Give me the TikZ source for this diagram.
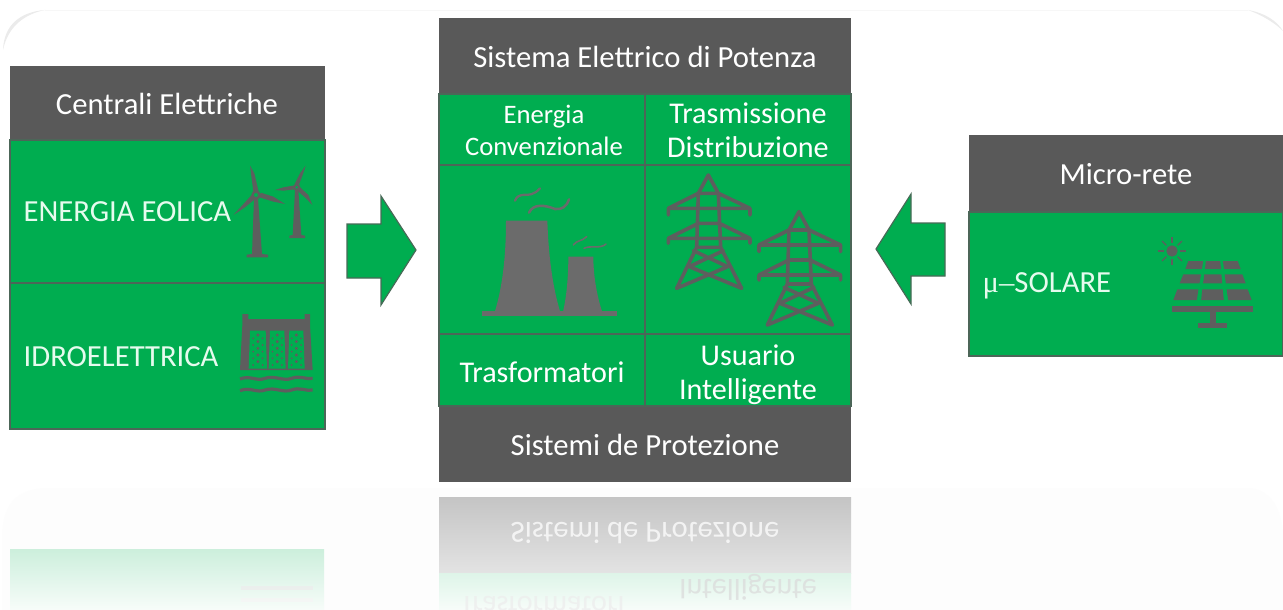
\documentclass[tikz,border=0pt]{standalone}
\usepackage{fontspec}
\setmainfont{Carlito}
\newfontfamily\serifmu{Liberation Serif}
\definecolor{gr}{HTML}{00AD50}
\definecolor{dk}{HTML}{595959}
\definecolor{ic}{HTML}{5E5E5E}
\definecolor{tw}{HTML}{6B6B6B}
\definecolor{mint}{HTML}{E6FBEE}
\tikzset{
  cellbox/.style={fill=gr,draw=dk!85!gr,line width=1pt},
  headtxt/.style={text=white,font=\fontsize{23}{27}\selectfont,align=center},
  celltxt/.style={text=white,font=\fontsize{22.6}{25.5}\selectfont,align=center},
  sidetxt/.style={text=mint,font=\fontsize{23}{27}\selectfont,anchor=west},
  arrowshape/.style={fill=gr,draw=dk!80!gr,line width=0.9pt,line join=miter},
  pyl/.style={draw=ic,line width=2.7pt,line cap=round,line join=round},
  reflecttxt/.style={yscale=-1,transform shape,text=white,opacity=.75}
}
\begin{document}
\begin{tikzpicture}[x=0.75pt,y=-0.75pt]
\useasboundingbox (0,0) rectangle (1283,610);
\fill[white] (0,0) rectangle (1283,610);
% panels
\draw[black!3,line width=.6pt] (45,10) -- (1248,10);
\fill[black!8] (3,50) .. controls (4,25) and (20,12) .. (45,10) .. controls (25,14) and (8,26) .. (3,50) -- cycle;
\fill[black!8] (1248,10) .. controls (1265,13) and (1277,21) .. (1283,31) .. controls (1275,23) and (1262,15) .. (1248,10) -- cycle;
\fill[black!0.8] (2,540) .. controls (2,505) and (15,490) .. (45,488) -- (1250,488) .. controls (1268,490) and (1283,505) .. (1283,540) -- (1283,610) -- (2,610) -- cycle;
% reflections
\shade[top color=black!23,bottom color=black!11] (439,497) rectangle (851,573);
\shade[top color=gr!13!white,bottom color=gr!3!white] (439,573) rectangle (851,610);
\shade[top color=gr!20!white,bottom color=gr!3!white] (10,549) rectangle (324,610);
\node[reflecttxt,font=\fontsize{23}{27}\selectfont] (rprot) at (645,533) {Sistemi de Protezione};
\node[reflecttxt,font=\fontsize{22.6}{25.5}\selectfont,text=black!14] (rint) at (748,587) {Intelligente};
\node[reflecttxt,font=\fontsize{22.6}{25.5}\selectfont,text=black!7] (rtra) at (542,607) {Trasformatori};
\fill[black!7,opacity=.8] (241,586) rectangle (313,590);
\fill[black!4,opacity=.8] (241,598) rectangle (313,602);
% left block
\fill[dk] (10,66) rectangle (325,140);
\draw[cellbox] (10,140) rectangle (325,283);
\draw[cellbox] (10,283) rectangle (325,429);
\node[headtxt] (centrali) at (167,104) {Centrali Elettriche};
\node[sidetxt] (eolica) at (19,212) {ENERGIA EOLICA};
\node[sidetxt] (idro) at (19,357) {IDROELETTRICA};
% wind turbines
\begin{scope}[x=0.25pt,y=-0.25pt]
\fill[ic] (762,595) -- (774,595) -- (786,762) -- (804,764) -- (804,772) -- (740,772) -- (740,764) -- (756,762) -- cycle;
\fill[ic] (750,497) -- (763,520) -- (776,575) -- (760,575) -- cycle;
\fill[ic] (855,612) -- (820,605) -- (778,592) -- (782,578) -- (820,590) -- cycle;
\fill[ic] (700,645) -- (725,618) -- (755,585) -- (765,597) -- (735,622) -- cycle;
\fill[ic] (768,585) circle (14);
\fill[gr] (768,585) circle (6);
\fill[ic] (885,570) -- (895,570) -- (904,705) -- (915,707) -- (915,714) -- (868,714) -- (868,707) -- (878,705) -- cycle;
\fill[ic] (917,497) -- (908,525) -- (896,556) -- (884,552) -- (900,520) -- cycle;
\fill[ic] (937,615) -- (918,595) -- (890,570) -- (898,560) -- (925,585) -- cycle;
\fill[ic] (825,570) -- (850,562) -- (885,556) -- (885,568) -- (850,572) -- cycle;
\fill[ic] (890,562) circle (11);
\fill[gr] (890,562) circle (4);
% dam
\fill[ic] (727,942) -- (745,942) -- (745,957) -- (914,957) -- (914,942) -- (930,942) -- (930,975) -- (938,1110) -- (720,1110) -- (727,975) -- cycle;
\foreach \a/\b in {750/797,810/853,868/910}{
  \fill[gr] (\a,992) -- (\b,992) -- (\b+4,1106) -- (\a-4,1106) -- cycle;
  \foreach \yy in {1005,1025,1045,1065,1085}{
    \fill[ic] ({(\a+\b)/2},\yy) circle (5);
    \fill[ic] ({(\a+\b)/2+14},\yy+10) circle (3);
    \fill[ic] ({(\a+\b)/2-14},\yy+10) circle (3);
  }
}
\draw[ic,line width=2.4pt] (720,1137) .. controls (750,1125) and (770,1145) .. (795,1135) .. controls (825,1125) and (850,1145) .. (875,1135) .. controls (900,1125) and (920,1140) .. (938,1135);
\draw[ic,line width=2.4pt] (720,1172) .. controls (750,1160) and (770,1180) .. (795,1170) .. controls (825,1160) and (850,1180) .. (875,1170) .. controls (900,1160) and (920,1175) .. (938,1170);
\end{scope}
% right arrow
\draw[arrowshape] (347,224) -- (381,224) -- (381,196) -- (416,250) -- (381,305) -- (381,278) -- (347,278) -- cycle;
% left arrow
\draw[arrowshape] (945,223) -- (911,223) -- (911,194) -- (876,249) -- (911,304) -- (911,276) -- (945,276) -- cycle;
% central block
\fill[dk] (439,18) rectangle (851,94);
\fill[dk] (439,406) rectangle (851,482);
\draw[cellbox] (439,94) rectangle (645,165);
\draw[cellbox] (645,94) rectangle (851,165);
\draw[cellbox] (439,165) rectangle (645,334);
\draw[cellbox] (645,165) rectangle (851,334);
\draw[cellbox] (439,334) rectangle (645,406);
\draw[cellbox] (645,334) rectangle (851,406);
\node[headtxt] (sep) at (645,57) {Sistema Elettrico di Potenza};
\node[headtxt] (prot) at (645,445) {Sistemi de Protezione};
\node[celltxt,font=\fontsize{20}{24}\selectfont] (conv) at (544,130) {Energia\\Convenzionale};
\node[celltxt] (tras) at (748,130) {Trasmissione\\Distribuzione};
\node[celltxt] (trasf) at (542,372) {Trasformatori};
\node[celltxt] (usu) at (748,375) {Usuario\\Intelligente};
% towers
\begin{scope}[shift={(322.5pt,-120pt)},x=0.25pt,y=-0.25pt]
\fill[tw] (228,182) -- (352,182) .. controls (356,300) and (370,390) .. (392,460) -- (193,460) .. controls (215,390) and (228,300) .. (228,182) -- cycle;
\fill[tw] (415,290) -- (490,290) .. controls (490,340) and (498,400) .. (518,460) -- (398,460) .. controls (410,410) and (415,350) .. (415,290) -- cycle;
\fill[tw] (155,453) rectangle (560,468);
\draw[tw,line width=1.7pt,line cap=round] (255,122) .. controls (265,95) and (295,110) .. (310,100) .. controls (322,95) and (322,92) .. (330,85);
\draw[tw,line width=1.9pt,line cap=round] (297,158) .. controls (310,130) and (345,135) .. (375,147) .. controls (395,150) and (410,140) .. (417,118);
\draw[tw,line width=1.2pt,line cap=round] (430,255) .. controls (440,240) and (455,245) .. (470,230);
\draw[tw,line width=1.2pt,line cap=round] (462,265) .. controls (480,255) and (510,268) .. (528,252);
% pylons
\foreach \dx/\dy in {0/0,272/110}{
\draw[pyl,shift={(\dx*0.25pt,-\dy*0.25pt)}]
 (805,100) -- (835,45) -- (865,100) -- cycle
 (805,100) -- (800,262) -- (740,385) -- (893,320) -- (790,272)
 (865,100) -- (872,262) -- (935,385) -- (778,320) -- (880,272)
 (800,262) -- (872,262)
 (807,145) -- (863,145)
 (805,190) -- (868,190)
 (805,100) -- (715,145) -- (960,145) -- (865,100)
 (715,145) -- (715,165) (960,145) -- (960,165)
 (805,190) -- (715,235) -- (960,235) -- (868,190)
 (715,235) -- (715,250) (960,235) -- (960,250);
}
\end{scope}
% right block
\fill[dk] (969,135) rectangle (1283,212);
\draw[cellbox] (969,212) rectangle (1283,356);
\node[headtxt] (micro) at (1126,174) {Micro-rete};
\node[sidetxt] (solare) at (978,286) {{\serifmu μ–}SOLARE};
% solar
\begin{scope}[shift={(645pt,-90pt)},x=0.25pt,y=-0.25pt]
\fill[ic] (936,393) circle (17);
\foreach \ang in {0,45,...,315}{
  \draw[ic,line width=1pt] (936,393) ++(\ang:24) -- ++(\ang:18);
}
\foreach \ya/\la/\ra/\yb/\lb/\rb in {423/985/1133/447/976/1142,463/970/1147/490/959/1157,508/952/1163/540/940/1175}{
 \foreach \p/\q in {0/0.30,0.355/0.645,0.70/1}{
  \pgfmathsetmacro\xa{\la+\p*(\ra-\la)}
  \pgfmathsetmacro\xb{\la+\q*(\ra-\la)}
  \pgfmathsetmacro\xc{\lb+\q*(\rb-\lb)}
  \pgfmathsetmacro\xd{\lb+\p*(\rb-\lb)}
  \fill[ic] (\xa,\ya) -- (\xb,\ya) -- (\xc,\yb) -- (\xd,\yb) -- cycle;
 }
}
\fill[ic] (935,557) rectangle (1178,575);
\fill[ic] (1050,575) rectangle (1068,610);
\fill[ic] (1015,610) rectangle (1100,625);
\end{scope}
\end{tikzpicture}
\end{document}
